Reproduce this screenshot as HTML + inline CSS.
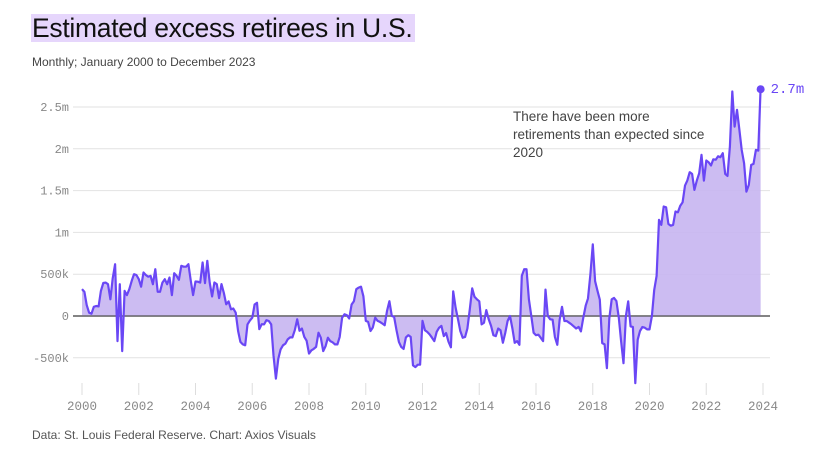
<!DOCTYPE html>
<html><head><meta charset="utf-8">
<style>
body{margin:0;background:#fff;width:824px;height:457px;overflow:hidden;font-family:"Liberation Sans",sans-serif;}
#title{position:absolute;left:31px;top:14px;height:28px;padding:0 3px 0 1px;background:#e6d6fc;font-size:26.5px;line-height:29px;color:#111;letter-spacing:-0.3px;}
#sub{position:absolute;left:32px;top:55px;font-size:12px;color:#444;}
#foot{position:absolute;left:32px;top:428px;font-size:12px;color:#555;}
svg{position:absolute;left:0;top:0;}
</style></head><body>
<div id="title">Estimated excess retirees in U.S.</div>
<div id="sub">Monthly; January 2000 to December 2023</div>
<div id="foot">Data: St. Louis Federal Reserve. Chart: Axios Visuals</div>
<svg id="chart" width="824" height="457"></svg>
<script>
const startYear = 2000;
const values2000s = [
322,290,130,40,28,110,120,115,300,395,400,380,
200,450,620,-300,380,-420,300,250,320,420,500,490,
440,350,520,490,470,480,380,560,290,290,400,440,
380,460,250,512,480,433,600,590,590,620,420,250,
413,410,400,640,393,660,400,234,401,380,214,381,
274,140,175,80,90,40,-180,-310,-340,-350,-100,-55,
-20,138,158,-158,-98,-100,-50,-60,-100,-473,-749,-512,
-400,-350,-330,-280,-256,-256,-170,-40,-177,-150,-250,-296,
-450,-410,-394,-370,-200,-260,-420,-360,-260,-300,-315,-340,
-340,-250,-20,20,10,-30,138,177,320,340,350,236];
const values2010s = [
-59,-70,-180,-138,-20,-59,-70,-90,-110,60,177,0,
-10,-170,-310,-370,-394,-256,-230,-250,-591,-611,-583,-583,
-59,-170,-190,-220,-260,-300,-189,-140,-118,-240,-205,-307,
-374,295,100,-40,-180,-260,-250,-150,80,330,230,200,
176,-100,-80,70,-40,-120,-230,-240,-150,-170,-320,-200,
-60,0,-150,-320,-300,-344,480,560,560,200,0,-200,
-230,-224,-260,-300,316,0,-40,-44,-250,-344,-50,110,
-60,-60,-80,-100,-124,-150,-130,-184,-20,124,210,500,
856,416,300,196,-324,-340,-624,-30,200,216,180,-20,
-300,-564,0,176,-124,-130,-804,-284,-180,-132,-140,-160];
const values2020s = [
-160,0,310,480,1150,1090,1310,1300,1100,1080,1090,1250,
1240,1317,1360,1560,1620,1720,1700,1508,1620,1708,1927,1620,
1860,1840,1800,1875,1870,1910,1900,1947,1700,1676,2027,2685,
2266,2466,2226,1987,1827,1488,1568,1807,1819,1987,1979,2725];
const yTicks = [-500,0,500,1000,1500,2000,2500];
const yTickLabels = ["-500k","0","500k","1m","1.5m","2m","2.5m"];
const xTicks = [2000,2002,2004,2006,2008,2010,2012,2014,2016,2018,2020,2022,2024];
const endLabel = "2.7m";

const values = values2000s.concat(values2010s, values2020s);
const NS="http://www.w3.org/2000/svg";
const svg=document.getElementById('chart');
const xS = t => 82 + (t - startYear) * 28.375;
const yS = v => 316 - v * 0.0836;
const xM = i => xS(startYear + i/12);
function mk(tag, attrs){const e=document.createElementNS(NS,tag);for(const k in attrs)e.setAttribute(k,attrs[k]);svg.appendChild(e);return e;}

yTicks.forEach((t,i)=>{
  const g=mk('line',{x1:73,x2:770,y1:yS(t),y2:yS(t),stroke:t===0?'#555':'#e2e2e2','stroke-width':t===0?1.2:1});
  
  
  const l=mk('text',{x:69,y:yS(t)+4,'text-anchor':'end','font-family':'Liberation Mono, monospace','font-size':12,fill:'#888'});
  l.textContent=yTickLabels[i];
  
  
});
xTicks.forEach(t=>{
  const g=mk('line',{x1:xS(t),x2:xS(t),y1:383,y2:395,stroke:'#ddd','stroke-width':1});
  
  
  const l=mk('text',{x:xS(t),y:410,'text-anchor':'middle','font-family':'Liberation Mono, monospace','font-size':12.5,fill:'#888'});
  l.textContent=t;
  
  
});
let d='', fd='M'+xM(0)+','+yS(0);
values.forEach((v,i)=>{d+=(i?'L':'M')+xM(i).toFixed(1)+','+yS(v).toFixed(1);fd+='L'+xM(i).toFixed(1)+','+yS(v).toFixed(1);});
fd+='L'+xM(values.length-1)+','+yS(0)+'Z';
const area=mk('path',{d:fd,fill:'#c7b5f1','fill-opacity':0.9});


const z=mk('line',{x1:73,x2:770,y1:yS(0),y2:yS(0),stroke:'#555','stroke-width':1.2});


const line=mk('path',{d:d,fill:'none',stroke:'#6a47f5','stroke-width':2.2,'stroke-linejoin':'round'});


const n=values.length-1;
const dot=mk('circle',{cx:xM(n),cy:yS(values[n])+1,r:4,fill:'#6a47f5'});


const el=mk('text',{x:xM(n)+10,y:yS(values[n])+5,'font-family':'Liberation Mono, monospace','font-size':14,fill:'#6a47f5'});
el.textContent=endLabel;


const ann=["There have been more","retirements than expected since","2020"];
ann.forEach((s,i)=>{
  const bg=mk('rect',{x:512,y:108+i*18,width:s.length*6.9,height:17,fill:'#fff'});
  
  
});
ann.forEach((s,i)=>{
  const t=mk('text',{x:513,y:121+i*18,'font-family':'Liberation Sans, sans-serif','font-size':13.5,fill:'#444'});
  t.textContent=s;
  
  
});
</script>
</body></html>
